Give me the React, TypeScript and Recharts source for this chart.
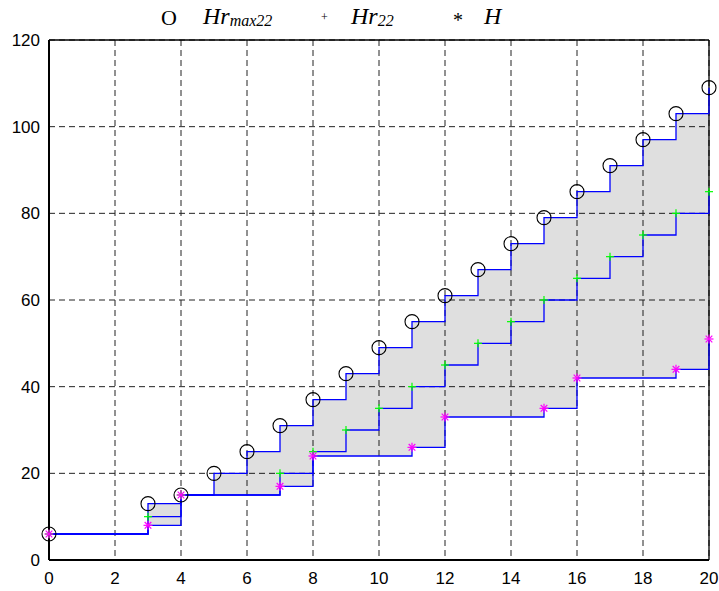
import {
  ComposedChart,
  Area,
  Line,
  XAxis,
  YAxis,
  CartesianGrid,
  ReferenceLine
} from "recharts";

// stage index along the x axis
const steps = [0, 1, 2, 3, 4, 5, 6, 7, 8, 9, 10, 11, 12, 13, 14, 15, 16, 17, 18, 19, 20];

// upper bound (circles)
const hrMax22 = [6, 6, 6, 13, 15, 20, 25, 31, 37, 43, 49, 55, 61, 67, 73, 79, 85, 91, 97, 103, 109];
// middle series (green plus)
const hr22 = [6, 6, 6, 10, 15, 15, 15, 20, 25, 30, 35, 40, 45, 50, 55, 60, 65, 70, 75, 80, 85];
// lower series (magenta star)
const hVals = [6, 6, 6, 8, 15, 15, 15, 17, 24, 24, 24, 26, 33, 33, 33, 35, 42, 42, 42, 44, 51];

const xTicks = [0, 2, 4, 6, 8, 10, 12, 14, 16, 18, 20];
const yTicks = [0, 20, 40, 60, 80, 100, 120];

const rows = steps.map((x, i) => ({
  x,
  hrMax22: hrMax22[i],
  hr22: hr22[i],
  h: hVals[i],
  band: [hVals[i], hrMax22[i]]
}));

// markers only where the staircase steps
const changed = (arr: number[], i: number) => i === 0 || arr[i] !== arr[i - 1];

const circleDot = (props: any) => {
  const { cx, cy, index } = props;
  if (!changed(hrMax22, index)) return <g key={`c${index}`} />;
  return (
    <circle key={`c${index}`} cx={cx} cy={cy} r={7} fill="none" stroke="#000" strokeWidth={1.1} />
  );
};

const plusDot = (props: any) => {
  const { cx, cy, index } = props;
  if (!changed(hr22, index)) return <g key={`p${index}`} />;
  const s = 4;
  return (
    <g key={`p${index}`} stroke="#00ff00" strokeWidth={1.2}>
      <line x1={cx - s} y1={cy} x2={cx + s} y2={cy} />
      <line x1={cx} y1={cy - s} x2={cx} y2={cy + s} />
    </g>
  );
};

const starDot = (props: any) => {
  const { cx, cy, index } = props;
  if (!changed(hVals, index)) return <g key={`s${index}`} />;
  const s = 4.5;
  const d = 3.3;
  return (
    <g key={`s${index}`} stroke="#ff00ff" strokeWidth={1.2}>
      <line x1={cx - s} y1={cy} x2={cx + s} y2={cy} />
      <line x1={cx} y1={cy - s} x2={cx} y2={cy + s} />
      <line x1={cx - d} y1={cy - d} x2={cx + d} y2={cy + d} />
      <line x1={cx - d} y1={cy + d} x2={cx + d} y2={cy - d} />
    </g>
  );
};

const tickStyle = { fill: "#000", fontSize: 17, fontFamily: "'Liberation Sans', Arial, sans-serif" };
const serif = "'Liberation Serif', 'Times New Roman', serif";

export default function App() {
  return (
    <div style={{ position: "absolute", left: 0, top: 0, width: 719, height: 591, background: "#fff" }}>
      <ComposedChart
        width={719}
        height={591}
        data={rows}
        margin={{ top: 40, right: 10, bottom: 0, left: 0 }}
      >
        <Area
          type="stepAfter"
          dataKey="band"
          stroke="none"
          fill="#000"
          fillOpacity={0.125}
          isAnimationActive={false}
          dot={false}
          activeDot={false}
        />
        <CartesianGrid stroke="#222" strokeDasharray="6 4" strokeWidth={1} />
        <XAxis
          dataKey="x"
          type="number"
          domain={[0, 20]}
          ticks={xTicks}
          height={31}
          tickSize={0}
          tickMargin={12}
          tick={tickStyle}
          axisLine={{ stroke: "#000", strokeWidth: 2 }}
          tickLine={false}
        />
        <YAxis
          type="number"
          domain={[0, 120]}
          ticks={yTicks}
          width={49}
          tickSize={0}
          tickMargin={9}
          tick={tickStyle}
          axisLine={{ stroke: "#000", strokeWidth: 2 }}
          tickLine={false}
        />
        <ReferenceLine y={120} stroke="#000" strokeWidth={1.3} />
        <ReferenceLine x={20} stroke="#000" strokeWidth={1.3} />
        <Line
          type="stepAfter"
          dataKey="hrMax22"
          stroke="#0000ff"
          strokeWidth={1.3}
          dot={circleDot}
          activeDot={false}
          isAnimationActive={false}
        />
        <Line
          type="stepAfter"
          dataKey="hr22"
          stroke="#0000ff"
          strokeWidth={1.3}
          dot={plusDot}
          activeDot={false}
          isAnimationActive={false}
        />
        <Line
          type="stepAfter"
          dataKey="h"
          stroke="#0000ff"
          strokeWidth={1.3}
          dot={starDot}
          activeDot={false}
          isAnimationActive={false}
        />
      </ComposedChart>
      <svg
        width={719}
        height={38}
        style={{ position: "absolute", left: 0, top: 0, pointerEvents: "none" }}
      >
        <text x={161} y={25} fontFamily={serif} fontSize={22}>O</text>
        <text x={203} y={24} fontFamily={serif} fontSize={24} fontStyle="italic">
          Hr<tspan fontSize={16} dy={1.5}>max22</tspan>
        </text>
        <text x={321} y={21} fontFamily={serif} fontSize={12}>+</text>
        <text x={351} y={24} fontFamily={serif} fontSize={24} fontStyle="italic">
          Hr<tspan fontSize={16} dy={1.5}>22</tspan>
        </text>
        <text x={453} y={27} fontFamily={serif} fontSize={20}>*</text>
        <text x={484} y={24} fontFamily={serif} fontSize={24} fontStyle="italic">H</text>
      </svg>
    </div>
  );
}
